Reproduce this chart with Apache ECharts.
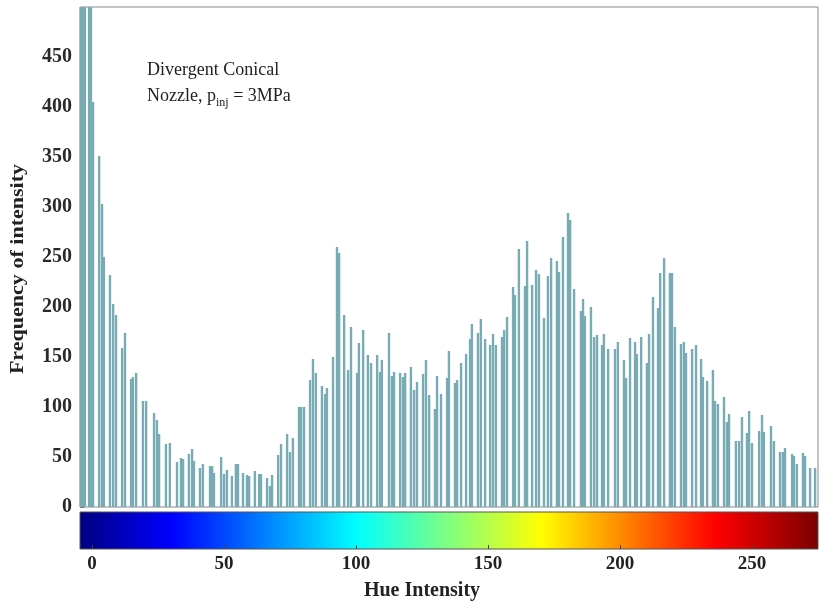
<!DOCTYPE html>
<html><head><meta charset="utf-8">
<script src="https://cdn.jsdelivr.net/npm/echarts@6/dist/echarts.min.js"></script>
<style>html,body{margin:0;padding:0;background:#fff}#c{width:819px;height:605px}</style>
</head><body><div id="c"></div>
<script>
// Bar positions (hue intensity)
const hue = [-4.2,-3.4,-2.7,-1.1,-0.4,0.4,2.7,3.8,4.5,6.8,
8.0,9.1,11.4,12.5,14.8,15.5,16.7,19.3,20.5,23.5,
24.6,25.4,28.0,29.5,32.2,33.7,34.5,36.7,37.9,38.6,
40.9,42.0,44.7,45.5,46.2,48.9,50.0,51.1,53.0,54.5,
55.3,57.2,58.7,59.5,61.7,63.3,64.0,66.3,67.4,68.2,
70.5,71.6,73.9,75.0,76.1,78.4,79.2,80.3,82.6,83.7,
84.8,87.1,88.3,89.0,91.3,92.8,93.6,95.5,97.0,98.1,
100.4,101.1,102.7,104.5,105.7,108.0,109.1,109.8,112.5,113.6,
114.4,116.7,117.8,118.6,120.8,122.0,123.1,125.4,126.5,127.7,
129.9,130.7,132.2,134.5,135.2,137.5,138.3,139.8,141.7,143.2,
143.9,146.2,147.3,148.9,150.8,151.9,153.0,155.3,156.1,157.2,
159.5,160.2,161.7,164.0,164.8,166.7,168.2,169.3,171.2,172.7,
173.9,176.1,176.9,178.4,180.3,181.1,182.6,185.2,186.0,186.7,
189.0,190.2,191.3,193.2,193.9,195.5,198.1,199.2,201.5,202.3,
203.8,205.7,206.4,208.0,210.2,211.0,212.5,214.4,215.2,216.7,
218.9,219.7,220.8,223.1,224.2,225.0,227.3,228.8,230.7,231.4,
233.0,235.2,236.0,237.1,239.4,240.5,241.3,243.9,245.1,246.2,
248.1,248.9,250.0,252.7,253.8,254.5,257.2,258.3,260.6,261.7,
262.5,265.2,265.9,267.0,269.3,270.1,272.0,273.9];

// Frequency of each bar
const frequency = [520,520,520,520,520,405,351,303,250,232,
203,192,159,174,128,130,134,106,106,94,
87,73,63,64,45,49,48,53,58,46,
39,43,41,41,34,50,33,37,31,43,
43,34,32,31,36,33,33,29,21,32,
52,63,73,55,69,100,100,100,127,148,
134,121,113,119,150,260,254,192,137,180,
134,164,177,152,144,152,135,147,174,131,
135,134,130,134,140,117,125,133,147,112,
98,131,113,129,156,124,127,144,153,168,
183,174,188,168,162,173,162,170,177,190,
220,212,258,221,266,222,237,233,189,231,
249,246,235,270,294,287,218,196,208,191,
200,170,172,162,173,158,158,165,147,129,
169,165,153,170,144,173,210,199,234,249,
234,234,180,163,165,154,158,162,148,130,
126,137,106,103,110,85,93,66,66,90,
74,96,64,76,92,75,81,66,55,55,
59,53,51,43,54,51,39,39];

const hueTicks = [0, 50, 100, 150, 200, 250];
const freqTicks = [0, 50, 100, 150, 200, 250, 300, 350, 400, 450];

const SERIF = '"Liberation Serif", "Times New Roman", serif';
const jet = [
  {offset: 0, color: '#00007f'},
  {offset: 0.125, color: '#0000ff'},
  {offset: 0.375, color: '#00ffff'},
  {offset: 0.625, color: '#ffff00'},
  {offset: 0.86, color: '#ff0000'},
  {offset: 1, color: '#7a0000'}
];

const chart = echarts.init(document.getElementById('c'), null, {renderer: 'canvas'});
chart.setOption({
  animation: false,
  backgroundColor: '#fff',
  grid: [
    {left: 80, right: 1, top: 7, height: 500, show: true, borderColor: '#8a8a8a', borderWidth: 1, backgroundColor: 'transparent'},
    {left: 92, width: 660, top: 512, height: 37, show: false}
  ],
  xAxis: [
    {gridIndex: 0, type: 'value', min: -4.55, max: 275,
     axisLine: {show: false, onZero: false}, axisTick: {show: false}, axisLabel: {show: false}, splitLine: {show: false}},
    {gridIndex: 1, type: 'value', min: hueTicks[0], max: hueTicks[hueTicks.length - 1], interval: 50, z: 10,
     name: 'Hue Intensity', nameLocation: 'middle', nameGap: 32,
     nameTextStyle: {fontFamily: SERIF, fontWeight: 'bold', fontSize: 20, color: '#222'},
     axisLine: {show: false, onZero: false},
     axisTick: {show: true, inside: true, length: 4, lineStyle: {color: '#444', width: 1}},
     axisLabel: {fontFamily: SERIF, fontWeight: 'bold', fontSize: 19, color: '#222', margin: 6},
     splitLine: {show: false}}
  ],
  yAxis: [
    {gridIndex: 0, type: 'value', min: 0, max: 500, interval: 50,
     axisLine: {show: false, onZero: false},
     axisTick: {show: true, inside: true, length: 4, lineStyle: {color: '#777'}},
     axisLabel: {fontFamily: SERIF, fontWeight: 'bold', fontSize: 20, color: '#2a2a2a', margin: 8,
       showMaxLabel: false,
       formatter: v => freqTicks.indexOf(v) >= 0 ? String(v) : ''},
     splitLine: {show: false}},
    {gridIndex: 1, type: 'value', show: false, min: 0, max: 1}
  ],
  graphic: [
    {type: 'rect', z: 1, shape: {x: 80, y: 512, width: 738, height: 37},
     style: {fill: new echarts.graphic.LinearGradient(0, 0, 1, 0, jet), stroke: '#555', lineWidth: 1}},
    {type: 'text', z: 5, x: 18, y: 269, rotation: Math.PI / 2, scaleX: 1.16,
     style: {text: 'Frequency of intensity', fontFamily: SERIF, fontWeight: 'bold', fontSize: 19,
             fill: '#222', align: 'center', verticalAlign: 'middle'}},
    {type: 'text', z: 5, x: 147, y: 57,
     style: {text: 'Divergent Conical\nNozzle, p{sub|inj} = 3MPa', fontFamily: SERIF, fontSize: 18,
             lineHeight: 26, fill: '#222', align: 'left', verticalAlign: 'top',
             rich: {sub: {fontFamily: SERIF, fontSize: 12, fill: '#222', verticalAlign: 'bottom', lineHeight: 26, padding: [8, 0, 0, 0]}}}}
  ],
  series: [{
    type: 'bar', xAxisIndex: 0, yAxisIndex: 0, barWidth: 2.4, clip: true,
    itemStyle: {color: '#78abb4'},
    data: hue.map((h, i) => [h, frequency[i]])
  }]
});
</script></body></html>
